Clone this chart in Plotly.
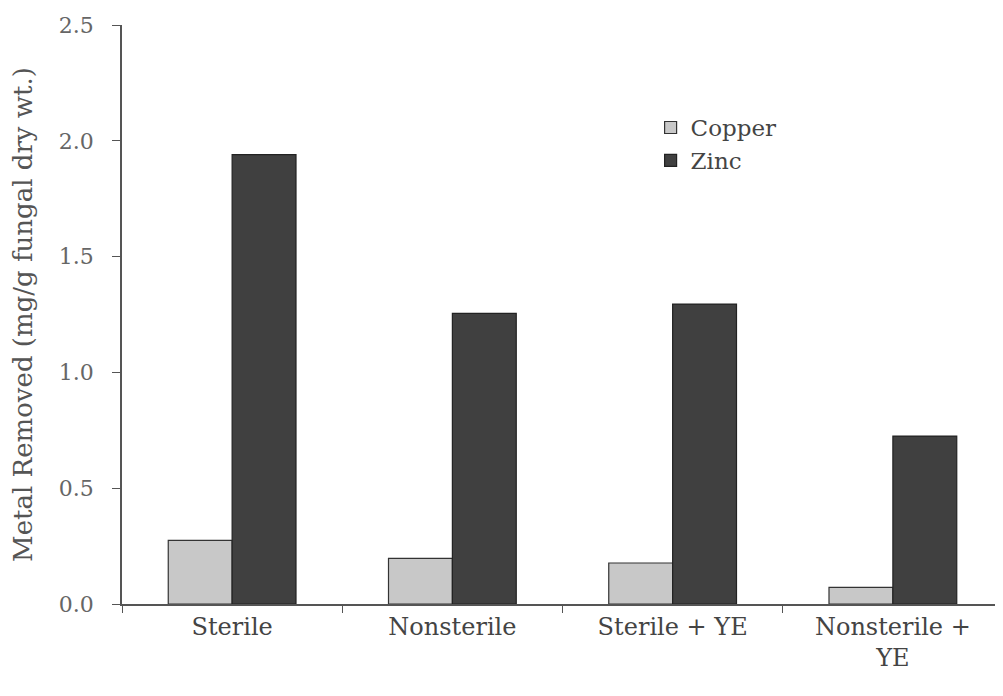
import plotly.graph_objects as go

# Metal removal by fungal biomass
categories = ["Sterile", "Nonsterile", "Sterile + YE", "Nonsterile +<br>YE"]
copper = [0.275, 0.197, 0.177, 0.072]
zinc = [1.94, 1.255, 1.295, 0.725]

font_family = "DejaVu Serif, Liberation Serif, serif"

fig = go.Figure()
fig.add_trace(go.Bar(x=categories, y=copper, name="Copper",
                     marker=dict(color="#c8c8c8", line=dict(color="#333333", width=1.2))))
fig.add_trace(go.Bar(x=categories, y=zinc, name="Zinc",
                     marker=dict(color="#404040", line=dict(color="#222222", width=1.2))))

fig.update_layout(
    width=995, height=688,
    margin=dict(l=114, r=0, t=17, b=92),
    paper_bgcolor="white", plot_bgcolor="white",
    barmode="group", bargap=0.42, bargroupgap=0,
    font=dict(family=font_family, size=22, color="#555555"),
    showlegend=True,
    legend=dict(x=0.6, y=0.86, xanchor="left", yanchor="top",
                font=dict(size=23, color="#444444"),
                bgcolor="rgba(0,0,0,0)", itemwidth=30, tracegroupgap=0),
)

fig.update_xaxes(
    showline=True, linecolor="#555555", linewidth=1.5,
    ticks="outside", tickson="boundaries", ticklen=7, tickcolor="#555555",
    showgrid=False, tickfont=dict(size=24, color="#444444"),
)
fig.update_yaxes(
    range=[0, 2.5], dtick=0.5, tickformat=".1f",
    showline=True, linecolor="#555555", linewidth=1.5,
    ticks="outside", ticklen=8, tickcolor="#555555",
    ticklabelstandoff=14,
    showgrid=False, zeroline=False,
    tickfont=dict(size=22, color="#666666"),
    title=dict(text="Metal Removed (mg/g fungal dry wt.)",
               font=dict(size=26, color="#555555"), standoff=20),
)

fig.write_html("out.html")
